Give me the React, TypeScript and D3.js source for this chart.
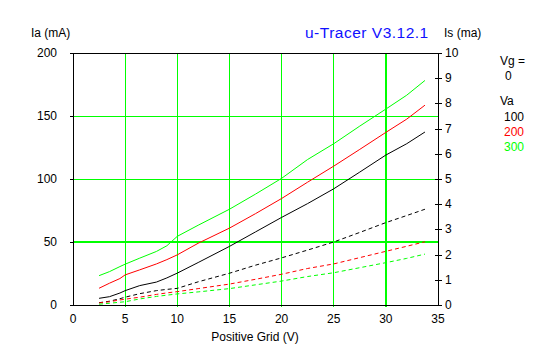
import React from "react";
import * as d3 from "d3";

const gridVoltages = [2.5, 3.5, 4.5, 5, 6.4, 8, 9, 10, 12, 15, 17.5, 20, 22.5, 25, 27.5, 30, 32, 33.75];

const iaVa100 = [5.3, 6.6, 9.5, 11.4, 15.4, 18.2, 21.5, 25.3, 33.7, 46.5, 58, 69.5, 80.5, 92.2, 105.5, 119, 128, 137.3];
const iaVa200 = [13.3, 17.3, 21, 23.9, 27.9, 32.6, 36, 39.8, 49, 61, 72.5, 84.5, 97.5, 110.2, 123.5, 137, 147.5, 158.6];
const iaVa300 = [23.3, 26.5, 30.5, 32.4, 37.2, 42.5, 47, 54.5, 63.3, 76, 88, 100.5, 115.5, 128, 142, 155.5, 166.5, 178.2];

const isVa100 = [0.09, 0.15, 0.25, 0.31, 0.45, 0.57, 0.62, 0.66, 0.92, 1.26, 1.58, 1.87, 2.18, 2.5, 2.88, 3.27, 3.55, 3.8];
const isVa200 = [0.08, 0.13, 0.2, 0.23, 0.31, 0.42, 0.48, 0.53, 0.65, 0.83, 1.02, 1.22, 1.45, 1.63, 1.88, 2.13, 2.33, 2.51];
const isVa300 = [0.03, 0.07, 0.11, 0.13, 0.24, 0.34, 0.39, 0.44, 0.52, 0.65, 0.8, 0.95, 1.13, 1.28, 1.48, 1.68, 1.85, 2.02];

const vaLabels = ["100", "200", "300"];
const seriesColors = ["#000000", "#ff0000", "#00ff00"];

const xTicks = [0, 5, 10, 15, 20, 25, 30, 35];
const yLeftTicks = [0, 50, 100, 150, 200];
const yRightTicks = [0, 1, 2, 3, 4, 5, 6, 7, 8, 9, 10];

const W = 547;
const H = 357;
const L = 73;
const R = 438;
const T = 53;
const B = 305;

const FONT = "'Liberation Sans', Arial, sans-serif";

export default function App() {
  const x = d3.scaleLinear().domain([0, 35]).range([L, R]);
  const yL = d3.scaleLinear().domain([0, 200]).range([B, T]);
  const yR = d3.scaleLinear().domain([0, 10]).range([B, T]);

  const iaSeries = [iaVa100, iaVa200, iaVa300];
  const isSeries = [isVa100, isVa200, isVa300];

  const lineL = d3
    .line<number>()
    .x((_, i) => x(gridVoltages[i]))
    .y((d) => yL(d));
  const lineR = d3
    .line<number>()
    .x((_, i) => x(gridVoltages[i]))
    .y((d) => yR(d));

  return (
    <svg
      width={W}
      height={H}
      style={{ position: "absolute", left: 0, top: 0, background: "#fff" }}
      fontFamily={FONT}
    >
      <rect x={0} y={0} width={W} height={H} fill="#fff" />
      {/* grid */}
      <g shapeRendering="crispEdges">
        {xTicks.slice(1, -1).map((t) => (
          <line
            key={"gx" + t}
            x1={Math.floor(x(t)) + (t === 30 ? 1 : 0.5)}
            x2={Math.floor(x(t)) + (t === 30 ? 1 : 0.5)}
            y1={T}
            y2={B + 2}
            stroke="#00ff00"
            strokeWidth={t === 30 ? 2 : 1}
          />
        ))}
        {yLeftTicks.slice(1, -1).map((t) => (
          <line
            key={"gy" + t}
            x1={L}
            x2={R}
            y1={Math.round(yL(t)) + (t === 50 ? 0 : 0.5)}
            y2={Math.round(yL(t)) + (t === 50 ? 0 : 0.5)}
            stroke="#00ff00"
            strokeWidth={t === 50 ? 2 : 1}
          />
        ))}
        {/* frame */}
        <line x1={L - 2} x2={R + 1} y1={T + 0.5} y2={T + 0.5} stroke="#000" />
        <line x1={L - 2} x2={R + 1} y1={B + 0.5} y2={B + 0.5} stroke="#000" />
        <line x1={L + 0.5} x2={L + 0.5} y1={T} y2={B + 1} stroke="#000" />
        <line x1={R + 0.5} x2={R + 0.5} y1={T} y2={B + 1} stroke="#000" />
        {yLeftTicks.map((t) => (
          <line key={"ylt" + t} x1={L - 3} x2={L} y1={Math.round(yL(t)) + 0.5} y2={Math.round(yL(t)) + 0.5} stroke="#000" />
        ))}
        {yRightTicks.map((t) => (
          <line key={"yrt" + t} x1={R - 3} x2={R + 4} y1={Math.round(yR(t)) + 0.5} y2={Math.round(yR(t)) + 0.5} stroke="#000" />
        ))}
      </g>
      {yLeftTicks.map((t) => (
        <text key={"yl" + t} x={57} y={yL(t) + 4} textAnchor="end" fontSize={12} fill="#000">
          {t}
        </text>
      ))}
      {yRightTicks.map((t) => (
        <text key={"yr" + t} x={445} y={yR(t) + 4} textAnchor="start" fontSize={12} fill="#000">
          {t}
        </text>
      ))}
      {/* bottom labels */}
      {xTicks.map((t) => (
        <text key={"xl" + t} x={x(t)} y={323} textAnchor="middle" fontSize={12} fill="#000">
          {t}
        </text>
      ))}
      <text x={255} y={341} textAnchor="middle" fontSize={12} fill="#000">
        Positive Grid (V)
      </text>
      <text x={31} y={37} fontSize={12} fill="#000">
        Ia (mA)
      </text>
      <text x={444} y={37} fontSize={12} fill="#000">
        Is (ma)
      </text>
      <text x={305} y={38} fontSize={15.5} fill="#1010ff" letterSpacing={0.5}>
        u-Tracer V3.12.1
      </text>
      {/* legend */}
      <text x={500} y={65} fontSize={12} fill="#000">Vg =</text>
      <text x={505} y={80} fontSize={12} fill="#000">0</text>
      <text x={500} y={105} fontSize={12} fill="#000">Va</text>
      {vaLabels.map((v, i) => (
        <text key={"lg" + v} x={504} y={121 + i * 15} fontSize={12} fill={seriesColors[i]}>
          {v}
        </text>
      ))}
      {/* curves */}
      {isSeries.map((s, i) => (
        <path
          key={"is" + i}
          d={lineR(s) || ""}
          fill="none"
          stroke={seriesColors[i]}
          strokeWidth={1}
          strokeDasharray="4,3"
        />
      ))}
      {iaSeries.map((s, i) => (
        <path key={"ia" + i} d={lineL(s) || ""} fill="none" stroke={seriesColors[i]} strokeWidth={1} />
      ))}
    </svg>
  );
}
